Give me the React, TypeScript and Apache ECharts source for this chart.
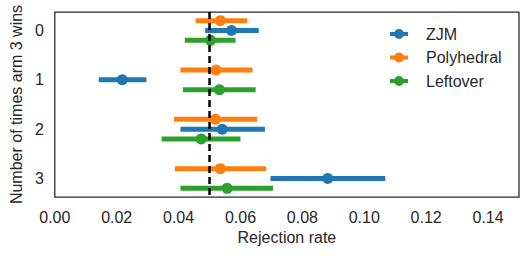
import React, { useEffect, useRef } from "react";
import * as echarts from "echarts";

const categories = [0, 1, 2, 3];
const seriesNames = ["ZJM", "Polyhedral", "Leftover"];
const seriesColors = ["#1f77b4", "#ff7f0e", "#2ca02c"];
const dodgeOffsets = [0, -0.2, 0.2];

const zjmMean = [0.0571, 0.0218, 0.0541, 0.0882];
const zjmLow = [0.0486, 0.0142, 0.0406, 0.0697];
const zjmHigh = [0.0659, 0.0296, 0.0679, 0.1068];

const polyMean = [0.0535, 0.0521, 0.0519, 0.0535];
const polyLow = [0.0455, 0.0406, 0.0385, 0.0388];
const polyHigh = [0.0622, 0.0639, 0.0654, 0.0683];

const leftMean = [0.0503, 0.0532, 0.0473, 0.0557];
const leftLow = [0.042, 0.0414, 0.0345, 0.0406];
const leftHigh = [0.0584, 0.0649, 0.06, 0.0705];

const referenceRate = 0.05;
const xTickLabels = ["0.00", "0.02", "0.04", "0.06", "0.08", "0.10", "0.12", "0.14"];

const FONT = '"Liberation Sans", Arial, sans-serif';
const TEXT = "#262626";
const LEGEND_ICON =
  "path://M0,3 L18,3 L18,7 L0,7 Z M4,5 A5,5 0 1,1 14,5 A5,5 0 1,1 4,5 Z";

export default function App() {
  const ref = useRef<HTMLDivElement>(null);

  useEffect(() => {
    if (!ref.current) return;
    const chart = echarts.init(ref.current, null, { renderer: "svg" });

    const means = [zjmMean, polyMean, leftMean];
    const lows = [zjmLow, polyLow, leftLow];
    const highs = [zjmHigh, polyHigh, leftHigh];

    const series: any[] = [];
    seriesNames.forEach((name, i) => {
      const color = seriesColors[i];
      series.push({
        name,
        type: "custom",
        z: 2,
        itemStyle: { color },
        encode: { x: [0, 1], y: 2 },
        data: categories.map((c, k) => [lows[i][k], highs[i][k], c + dodgeOffsets[i]]),
        renderItem: (params: any, api: any) => {
          const p1 = api.coord([api.value(0), api.value(2)]);
          const p2 = api.coord([api.value(1), api.value(2)]);
          return {
            type: "line",
            shape: { x1: p1[0], y1: p1[1], x2: p2[0], y2: p2[1] },
            style: { stroke: color, lineWidth: 5, lineCap: "butt" },
          };
        },
      });
    });
    seriesNames.forEach((name, i) => {
      series.push({
        name,
        type: "scatter",
        z: 3,
        symbol: "circle",
        symbolSize: 11,
        itemStyle: { color: seriesColors[i], opacity: 1 },
        data: categories.map((c, k) => [means[i][k], c + dodgeOffsets[i]]),
      });
    });
    series.push({
      name: "reference",
      type: "line",
      z: 5,
      symbol: "none",
      silent: true,
      lineStyle: { color: "#000", width: 2.5, type: [7, 4] },
      data: [
        [referenceRate, -0.375],
        [referenceRate, 3.375],
      ],
    });

    chart.setOption({
      animation: false,
      textStyle: { fontFamily: FONT },
      grid: {
        left: 54,
        top: 12,
        right: 13,
        bottom: 61,
        show: true,
        borderColor: TEXT,
        borderWidth: 1.25,
        backgroundColor: "transparent",
      },
      legend: {
        orient: "vertical",
        left: 385,
        top: 21,
        itemWidth: 18,
        itemHeight: 10,
        itemGap: 7.5,
        textStyle: { fontSize: 16, color: TEXT, fontFamily: FONT, padding: [0, 0, 0, 13], lineHeight: 16 },
        data: seriesNames.map((n) => ({ name: n, icon: LEGEND_ICON })),
      },
      xAxis: {
        type: "value",
        min: 0,
        max: 0.15,
        interval: 0.02,
        name: "Rejection rate",
        nameLocation: "middle",
        nameGap: 31,
        nameTextStyle: { fontSize: 16, color: TEXT, fontFamily: FONT },
        axisLine: { show: false },
        axisTick: { show: false },
        splitLine: { show: false },
        axisLabel: {
          fontSize: 16,
          color: TEXT,
          fontFamily: FONT,
          margin: 12,
          showMaxLabel: false,
          formatter: (v: number) => {
            const idx = Math.round(v / 0.02);
            return Math.abs(v - idx * 0.02) < 1e-9 && idx < xTickLabels.length ? xTickLabels[idx] : "";
          },
        },
      },
      yAxis: {
        type: "value",
        inverse: true,
        min: -0.375,
        max: 3.375,
        interval: 0.125,
        name: "Number of times arm 3 wins",
        nameLocation: "middle",
        nameRotate: 90,
        nameGap: 28,
        nameTextStyle: { fontSize: 16, color: TEXT, fontFamily: FONT },
        axisLine: { show: false },
        axisTick: { show: false },
        splitLine: { show: false },
        axisLabel: {
          fontSize: 16,
          color: TEXT,
          fontFamily: FONT,
          margin: 11,
          formatter: (v: number) =>
            Number.isInteger(v) && categories.indexOf(v) >= 0 ? String(categories[categories.indexOf(v)]) : "",
        },
      },
      series,
    });

    return () => chart.dispose();
  }, []);

  return (
    <div
      ref={ref}
      style={{ position: "fixed", left: 0, top: 0, width: 532, height: 258, background: "#fff" }}
    />
  );
}
